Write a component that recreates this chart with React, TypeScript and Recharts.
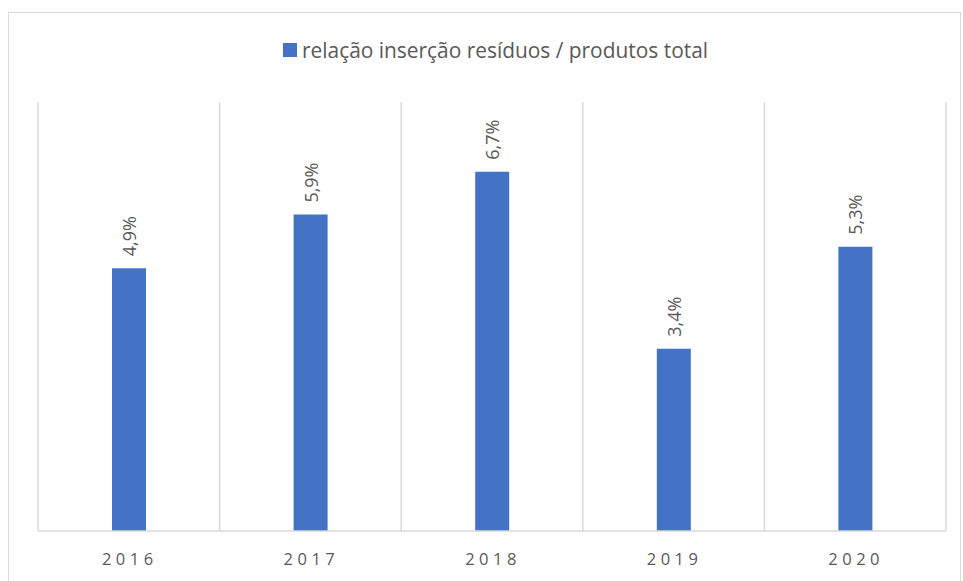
import { BarChart, Bar, XAxis, YAxis, CartesianGrid, LabelList } from "recharts";

const years = ["2016", "2017", "2018", "2019", "2020"];
const ratioValues = [4.9, 5.9, 6.7, 3.4, 5.3];
const seriesName = "relação inserção resíduos / produtos total";

const chartData = years.map((year, i) => ({ year, ratio: ratioValues[i] }));

const BLUE = "#4472C4";
const GRID = "#d9d9d9";
const TEXT = "#595959";
const FONT = "'Open Sans', sans-serif";

const fmt = (v: number) => v.toFixed(1).replace(".", ",") + "%";

function YearTick({ x, y, payload }: any) {
  return (
    <text
      x={x + 1}
      y={y + 26}
      textAnchor="middle"
      fill={TEXT}
      fontSize={16.5}
      fontFamily={FONT}
      letterSpacing={4.5}
    >
      {payload.value}
    </text>
  );
}

function ValueLabel({ x, y, width, value }: any) {
  const cx = x + width / 2 + 7;
  const cy = y - 12;
  return (
    <text
      x={cx}
      y={cy}
      transform={`rotate(-90 ${cx} ${cy})`}
      textAnchor="start"
      fill={TEXT}
      fontSize={18}
      fontFamily={FONT}
    >
      {fmt(value)}
    </text>
  );
}

function LegendBox() {
  return (
    <div
      style={{
        position: "absolute",
        left: 283,
        top: 36,
        display: "flex",
        alignItems: "center",
        fontFamily: FONT,
        fontSize: 20.9,
        color: TEXT,
        whiteSpace: "nowrap",
      }}
    >
      <span style={{ width: 14, height: 14, background: BLUE, marginRight: 5, display: "inline-block" }} />
      {seriesName}
    </div>
  );
}

export default function App() {
  return (
    <div style={{ position: "absolute", left: 0, top: 0, width: 963, height: 581, background: "#fff", overflow: "hidden" }}>
      <div
        style={{
          position: "absolute",
          left: 8,
          top: 12,
          width: 953,
          height: 600,
          border: `1px solid ${GRID}`,
          boxSizing: "border-box",
        }}
      />
      <LegendBox />
      <div style={{ position: "absolute", left: 0, top: 0 }}>
        <BarChart
          width={963}
          height={581}
          data={chartData}
          margin={{ top: 102, right: 17, bottom: 20, left: 38 }}
          barSize={34}
        >
          <CartesianGrid
            horizontal={false}
            stroke={GRID}
            strokeWidth={1.5}
            verticalCoordinatesGenerator={({ offset }: any) =>
              years.map((_, i) => offset.left + (i * offset.width) / years.length).concat(offset.left + offset.width)
            }
          />
          <XAxis
            dataKey="year"
            height={30}
            tickLine={false}
            axisLine={{ stroke: GRID, strokeWidth: 1.5 }}
            tick={<YearTick />}
            interval={0}
          />
          <YAxis hide domain={[0, 8]} />
          <Bar dataKey="ratio" name={seriesName} fill={BLUE} isAnimationActive={false}>
            <LabelList dataKey="ratio" content={<ValueLabel />} />
          </Bar>
        </BarChart>
      </div>
    </div>
  );
}
